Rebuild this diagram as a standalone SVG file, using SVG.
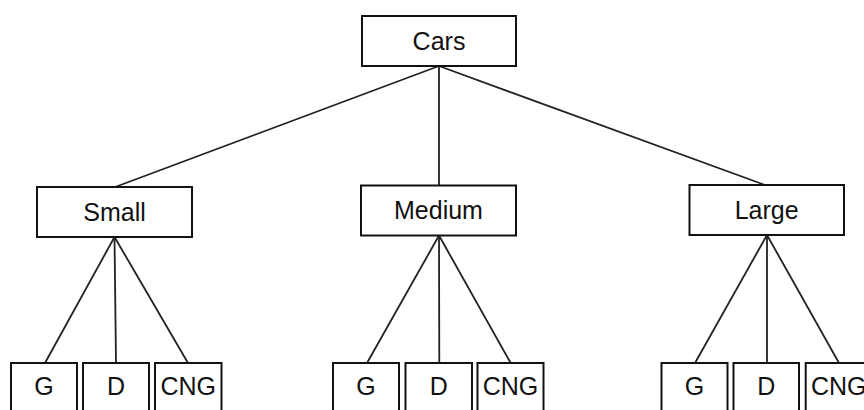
<svg xmlns="http://www.w3.org/2000/svg" width="864" height="410" viewBox="0 0 864 410">
<style>
rect.box{fill:#fff;stroke:#111;stroke-width:2}
text{font-family:"Liberation Sans",Arial,sans-serif;font-size:25px;fill:#111;text-anchor:middle}
.conn line{stroke:#222;stroke-width:1.8;stroke-linecap:round}
</style>
<rect width="864" height="410" fill="#fff"/>
<g class="conn" id="connectors">
<line x1="439" y1="66" x2="116.5" y2="186.5"/>
<line x1="439" y1="66" x2="439" y2="185.5"/>
<line x1="439" y1="66" x2="765" y2="185"/>
<line x1="114.5" y1="237" x2="45" y2="363"/>
<line x1="114.5" y1="237" x2="116" y2="363"/>
<line x1="114.5" y1="237" x2="188" y2="363"/>
<line x1="439" y1="235.5" x2="367" y2="363"/>
<line x1="439" y1="235.5" x2="439.3" y2="363"/>
<line x1="439" y1="235.5" x2="510.7" y2="363"/>
<line x1="767" y1="235" x2="695" y2="363"/>
<line x1="767" y1="235" x2="767" y2="363"/>
<line x1="767" y1="235" x2="839" y2="363"/>
</g>
<g id="cars"><rect class="box" x="362" y="16" width="154" height="50"/><text x="439" y="49.5">Cars</text></g>
<g id="small"><rect class="box" x="37" y="187" width="155" height="50"/><text x="114.5" y="220.5">Small</text></g>
<g id="medium"><rect class="box" x="361" y="185.5" width="155" height="50"/><text x="438.5" y="219">Medium</text></g>
<g id="large"><rect class="box" x="689.5" y="185" width="154.5" height="50"/><text x="766.7" y="218.5">Large</text></g>
<g id="small-g"><rect class="box" x="11" y="363" width="66" height="60"/><text x="44" y="395">G</text></g>
<g id="small-d"><rect class="box" x="83" y="363" width="66" height="60"/><text x="116" y="395">D</text></g>
<g id="small-cng"><rect class="box" x="155" y="363" width="66.5" height="60"/><text x="188.3" y="395">CNG</text></g>
<g id="medium-g"><rect class="box" x="333" y="363" width="66" height="60"/><text x="366" y="395">G</text></g>
<g id="medium-d"><rect class="box" x="405.5" y="363" width="66.5" height="60"/><text x="438.7" y="395">D</text></g>
<g id="medium-cng"><rect class="box" x="477.5" y="363" width="66" height="60"/><text x="510.5" y="395">CNG</text></g>
<g id="large-g"><rect class="box" x="661.5" y="363" width="66" height="60"/><text x="694.5" y="395">G</text></g>
<g id="large-d"><rect class="box" x="733.5" y="363" width="65.5" height="60"/><text x="766.3" y="395">D</text></g>
<g id="large-cng"><rect class="box" x="805.7" y="363" width="66" height="60"/><text x="838.7" y="395">CNG</text></g>
</svg>
